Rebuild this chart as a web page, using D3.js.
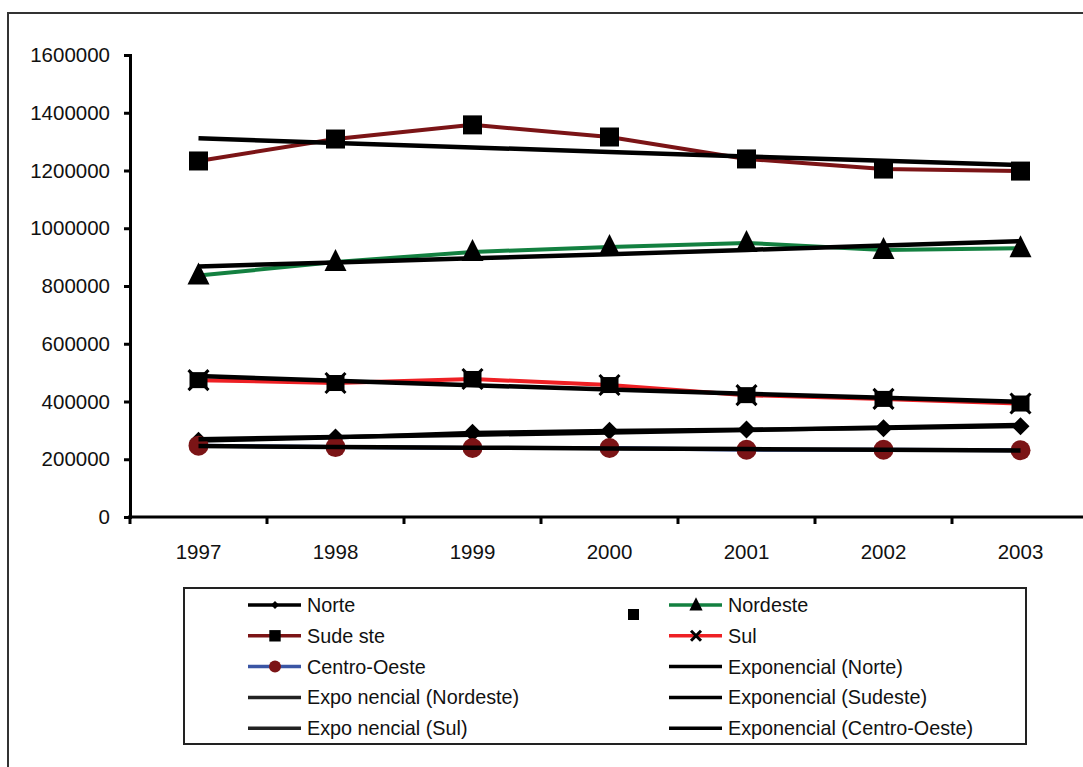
<!DOCTYPE html>
<html><head><meta charset="utf-8">
<script src="https://cdn.jsdelivr.net/npm/d3@7"></script>
<style>body{margin:0;background:#fff}svg{display:block}text{font-family:"Liberation Sans",Arial,sans-serif}</style>
</head><body>
<svg id="c" width="1083" height="767"></svg>
<script>
const years = ["1997","1998","1999","2000","2001","2002","2003"];
const norte = [264000,275000,292000,299000,303000,307000,314000];
const nordeste = [836000,883000,918000,935000,949000,925000,931000];
const sudeste = [1233000,1309000,1358000,1316000,1240000,1205000,1198000];
const sul = [474000,464000,478000,457000,422000,409000,393000];
const centroOeste = [247000,242000,239000,239000,233000,233000,231000];
const yTicks = [0,200000,400000,600000,800000,1000000,1200000,1400000,1600000];

const svg = d3.select("#c");
const x = d3.scaleBand().domain(years).range([130,1089]);
const y = d3.scaleLinear().domain([0,1600000]).range([517,55]);
const cx = d => x(d) + x.bandwidth()/2;

svg.append("rect").attr("x",8).attr("y",13).attr("width",1090).attr("height",770)
  .attr("fill","none").attr("stroke","#333").attr("stroke-width",2);

const ya = svg.append("g").attr("transform","translate(130,0)")
  .call(d3.axisLeft(y).tickValues(yTicks).tickFormat(d3.format("d")).tickSize(6).tickPadding(14));
ya.select(".domain").attr("stroke","#000").attr("stroke-width",3);
ya.selectAll(".tick line").attr("stroke","#000").attr("stroke-width",3);
ya.selectAll("text").attr("font-size",20.5).attr("fill","#111");

const xa = svg.append("g").attr("transform","translate(0,517)")
  .call(d3.axisBottom(x).tickSize(0).tickPadding(27));
xa.select(".domain").remove();
svg.append("line").attr("x1",128).attr("x2",1083).attr("y1",517).attr("y2",517).attr("stroke","#000").attr("stroke-width",3);
const bounds = years.map(d=>x(d)).concat([x.range()[1]]);
svg.selectAll(".xt").data(bounds).enter().append("line")
  .attr("x1",d=>d).attr("x2",d=>d).attr("y1",517).attr("y2",524).attr("stroke","#000").attr("stroke-width",3);
xa.selectAll("text").attr("font-size",20.5).attr("fill","#111");

// exponential trendline fit (as Excel computes it)
function expFit(vals){
  const n = vals.length, xs = d3.range(1,n+1), ls = vals.map(Math.log);
  const mx = d3.mean(xs), ml = d3.mean(ls);
  const b = d3.sum(xs.map((v,i)=>(v-mx)*(ls[i]-ml)))/d3.sum(xs.map(v=>(v-mx)**2));
  const a = ml - b*mx;
  return xs.map(v=>Math.exp(a+b*v));
}
const line = d3.line().x((d,i)=>cx(years[i])).y(d=>y(d));

const series = [
  {name:"Norte", vals:norte, color:"#000", marker:"diamond"},
  {name:"Nordeste", vals:nordeste, color:"#138040", marker:"triangle"},
  {name:"Sudeste", vals:sudeste, color:"#7b1416", marker:"square"},
  {name:"Sul", vals:sul, color:"#ee2024", marker:"x"},
  {name:"Centro-Oeste", vals:centroOeste, color:"#3a55a4", marker:"circle"}
];

function drawMarker(g, type, px, py, s){
  if(type==="square") g.append("rect").attr("x",px-9.5*s).attr("y",py-9.5*s).attr("width",19*s).attr("height",19*s).attr("fill","#000");
  else if(type==="triangle") g.append("path").attr("d",`M${px},${py-13*s}L${px+11*s},${py+9*s}L${px-11*s},${py+9*s}Z`).attr("fill","#000");
  else if(type==="diamond") g.append("path").attr("d",`M${px},${py-9*s}L${px+9*s},${py}L${px},${py+9*s}L${px-9*s},${py}Z`).attr("fill","#000");
  else if(type==="circle") g.append("circle").attr("cx",px).attr("cy",py).attr("r",10*s).attr("fill","#7b1416");
  else if(type==="x"){
    if(s>=1){
      g.append("rect").attr("x",px-9).attr("y",py-8).attr("width",18).attr("height",16).attr("fill","#000");
      g.append("path").attr("d",`M${px-10},${py-10}L${px+10},${py+10}M${px+10},${py-10}L${px-10},${py+10}`).attr("stroke","#000").attr("stroke-width",3);
    } else {
      g.append("path").attr("d",`M${px-5},${py-5}L${px+5},${py+5}M${px+5},${py-5}L${px-5},${py+5}`).attr("stroke","#000").attr("stroke-width",3);
    }
  }
}

const plot = svg.append("g");
series.forEach(s=>{
  plot.append("path").attr("d",line(s.vals)).attr("fill","none").attr("stroke",s.color).attr("stroke-width",4);
});
series.forEach(s=>{
  s.vals.forEach((v,i)=>drawMarker(plot, s.marker, cx(years[i]), y(v), 1));
});
series.forEach(s=>{
  plot.append("path").attr("d",line(expFit(s.vals))).attr("fill","none").attr("stroke","#000").attr("stroke-width",4.5);
});

const lg = svg.append("g");
lg.append("rect").attr("x",184).attr("y",588).attr("width",842).attr("height",156).attr("fill","#fff").attr("stroke","#222").attr("stroke-width",2);
const legendItems = [
  {label:"Norte", color:"#000", marker:"diamond"},
  {label:"Nordeste", color:"#138040", marker:"triangle"},
  {label:"Sude ste", color:"#7b1416", marker:"square"},
  {label:"Sul", color:"#ee2024", marker:"x"},
  {label:"Centro-Oeste", color:"#3a55a4", marker:"circle"},
  {label:"Exponencial (Norte)", color:"#000", marker:null},
  {label:"Expo nencial (Nordeste)", color:"#222", marker:null},
  {label:"Exponencial (Sudeste)", color:"#000", marker:null},
  {label:"Expo nencial (Sul)", color:"#222", marker:null},
  {label:"Exponencial (Centro-Oeste)", color:"#000", marker:null}
];
legendItems.forEach((it,i)=>{
  const col = i%2, row = Math.floor(i/2);
  const x0 = col===0 ? 248 : 669, yy = 605 + row*30.8;
  lg.append("line").attr("x1",x0).attr("x2",x0+53).attr("y1",yy).attr("y2",yy).attr("stroke",it.color).attr("stroke-width",3.5);
  if(it.marker) drawMarker(lg, it.marker, x0+27, yy, it.marker==="diamond"?0.45:0.6);
  lg.append("text").attr("x",x0+59).attr("y",yy+7).attr("font-size",19.8).attr("fill","#111").text(it.label);
});
lg.append("rect").attr("x",628).attr("y",609).attr("width",11).attr("height",11).attr("fill","#000");
</script>
</body></html>
